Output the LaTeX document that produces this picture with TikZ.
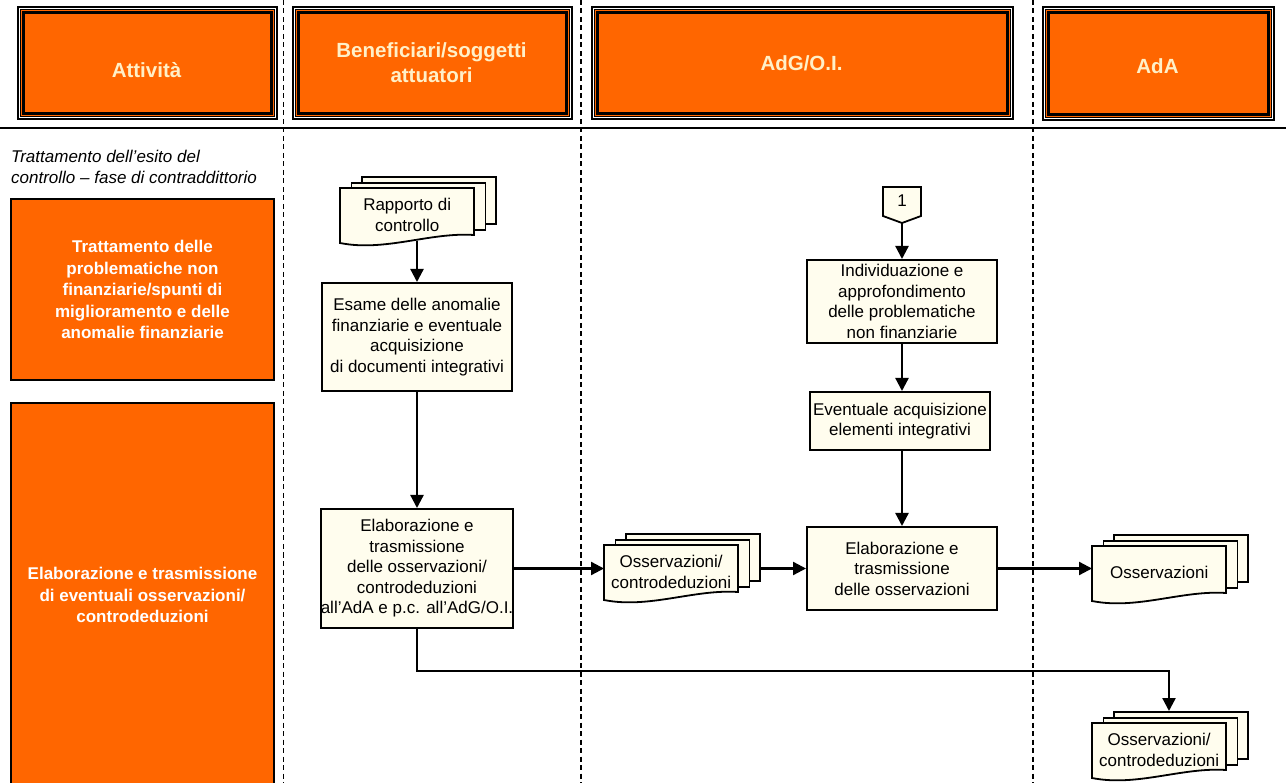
\documentclass[tikz,border=0pt]{standalone}
\usepackage{fontspec}
\setmainfont{Liberation Sans}
\usetikzlibrary{arrows.meta}
\definecolor{orng}{RGB}{255,102,0}
\definecolor{cream}{RGB}{255,253,238}
\definecolor{hdrtxt}{RGB}{255,240,200}

% header box with a triple frame: thin outer line, orange rim, heavy inner line
\newcommand\hdrbox[5]{% name, left, top, width, height
  \node[draw, line width=2pt, fill=white, anchor=north west, inner sep=0pt,
        minimum width=#4pt, minimum height=#5pt] (#1) at (#2,#3) {};
  \node[draw, line width=0.8pt, fill=orng, inner sep=0pt,
        minimum width=#4pt-5pt, minimum height=#5pt-5pt] (#1-rim) at (#1.center) {};
  \node[draw, line width=2.8pt, inner sep=0pt,
        minimum width=#4pt-11pt, minimum height=#5pt-11pt] (#1-in) at (#1.center) {};
}

% stack of three documents; #1 names the front sheet
\newcommand\docstack[4]{% name, left, top, text
  \node[doc, anchor=north west, minimum width=134pt, minimum height=47pt, inner sep=0pt] (#1-c) at ({#2+21},{#3-12}) {};
  \node[doc, anchor=north west, minimum width=134pt, minimum height=47pt, inner sep=0pt] (#1-b) at ({#2+10.5},{#3-6}) {};
  \draw[doc] (#2,#3) -- ({#2+134},#3) -- ({#2+134},{#3+47})
     .. controls ({#2+90},{#3+44}) and ({#2+45},{#3+64}) .. (#2,{#3+55}) -- cycle;
  \node[docfront] (#1) at (#2,#3) {#4};
}

\begin{document}
\begin{tikzpicture}[x=1pt,y=-1pt,
  base/.style={font=\fontsize{17}{20.5}\selectfont},
  proc/.style={base, draw, line width=2pt, fill=cream, align=center, inner sep=0pt},
  side/.style={draw, line width=2pt, fill=orng, text=white, align=center, inner sep=0pt,
               anchor=north west, font=\fontsize{17}{21.5}\selectfont\bfseries},
  hdrtext/.style={text=hdrtxt, align=center, font=\fontsize{20.5}{25}\selectfont\bfseries},
  lane/.style={line width=1.6pt, dash pattern=on 5pt off 3.5pt},
  arr/.style={line width=2.3pt, -{Triangle[length=13pt,width=13pt]}},
  doc/.style={draw, line width=1.8pt, fill=cream},
  docfront/.style={base, align=center, minimum width=134pt, minimum height=53pt,
                   inner sep=0pt, anchor=north west},
]
\useasboundingbox (0,0) rectangle (1286,783);

% swimlane separators
\draw[lane] (283.5,0) -- (283.5,783);
\draw[lane] (581,0) -- (581,783);
\draw[lane] (1033,0) -- (1033,783);
\draw[line width=2pt] (0,128) -- (1286,128);

% lane headers
\hdrbox{hA}{17}{6}{259}{112}
\hdrbox{hB}{292}{6}{279}{112}
\hdrbox{hC}{591}{6}{421}{112}
\hdrbox{hD}{1042}{6}{231}{113}
\node[hdrtext] (tA) at (146.5,70) {Attività};
\node[hdrtext] (tB) at (431.5,63) {Beneficiari/soggetti\\attuatori};
\node[hdrtext] (tC) at (801.5,63) {AdG/O.I.};
\node[hdrtext] (tD) at (1157.5,66) {AdA};

% activity column
\node[base, font=\fontsize{17}{21}\selectfont\itshape, anchor=north west, align=left, inner sep=0pt]
  (note) at (11,150) {Trattamento dell’esito del\\controllo – fase di contraddittorio};
\node[side, minimum width=263pt, minimum height=181pt] (s1) at (10,198)
  {Trattamento delle\\problematiche non\\finanziarie/spunti di\\miglioramento e delle\\anomalie finanziarie};
\node[side, minimum width=263pt, minimum height=384pt] (s2) at (10,402)
  {Elaborazione e trasmissione\\di eventuali osservazioni/\\controdeduzioni};

% documents
\docstack{rap}{340}{188}{Rapporto di\\controllo}
\docstack{oss1}{604}{545}{Osservazioni/\\controdeduzioni}
\docstack{oss2}{1092}{546}{Osservazioni}
\docstack{oss3}{1092}{723}{Osservazioni/\\controdeduzioni}

% off-page connector
\draw[doc] (883,187) -- (921,187) -- (921,216) -- (902,223) -- (883,216) -- cycle;
\node[base] (one) at (902,201) {1};
\coordinate (onetip) at (902,223);

% process steps
\node[proc, minimum width=190pt, minimum height=108pt] (esame) at (417,337)
  {Esame delle anomalie\\finanziarie e eventuale\\acquisizione\\di documenti integrativi};
\node[proc, minimum width=190pt, minimum height=119pt] (elab1) at (417,568.5)
  {Elaborazione e\\trasmissione\\delle osservazioni/\\controdeduzioni\\all’AdA e p.c. all’AdG/O.I.};
\node[proc, minimum width=190pt, minimum height=83pt] (indiv) at (902,301.5)
  {Individuazione e\\approfondimento\\delle problematiche\\non finanziarie};
\node[proc, minimum width=180pt, minimum height=58pt] (event) at (900,421)
  {Eventuale acquisizione\\elementi integrativi};
\node[proc, minimum width=190pt, minimum height=83pt] (elab2) at (902,568.5)
  {Elaborazione e\\trasmissione\\delle osservazioni};

% flow
\draw[arr] (esame.north |- rap.south) -- (esame.north);
\draw[arr] (esame.south) -- (elab1.north);
\draw[arr] (elab1.east) -- (elab1.east -| oss1.west);
\draw[arr] (oss1-c.east |- elab2.west) -- (elab2.west);
\draw[arr] (elab2.east) -- (elab2.east -| oss2.west);
\draw[arr] (onetip) -- (onetip |- indiv.north);
\draw[arr] (indiv.south) -- (indiv.south |- event.north);
\draw[arr] (indiv.south |- event.south) -- (indiv.south |- elab2.north);
\coordinate (turn) at (1169,671);
\draw[arr] (elab1.south) |- (turn) -- (turn |- oss3-c.north);
\end{tikzpicture}
\end{document}
